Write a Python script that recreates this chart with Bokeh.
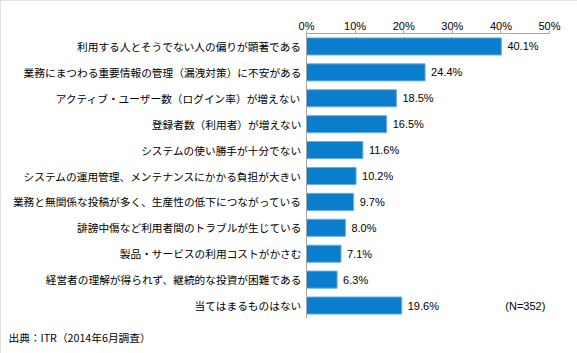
from bokeh.plotting import figure
from bokeh.models import Range1d, FactorRange, FixedTicker, PrintfTickFormatter, Label, ColumnDataSource, Title
from bokeh.embed import file_html
from bokeh.resources import INLINE
from bokeh.core.properties import value

categories = [
    "利用する人とそうでない人の偏りが顕著である",
    "業務にまつわる重要情報の管理（漏洩対策）に不安がある",
    "アクティブ・ユーザー数（ログイン率）が増えない",
    "登録者数（利用者）が増えない",
    "システムの使い勝手が十分でない",
    "システムの運用管理、メンテナンスにかかる負担が大きい",
    "業務と無関係な投稿が多く、生産性の低下につながっている",
    "誹謗中傷など利用者間のトラブルが生じている",
    "製品・サービスの利用コストがかさむ",
    "経営者の理解が得られず、継続的な投資が困難である",
    "当てはまるものはない",
]
values = [40.1, 24.4, 18.5, 16.5, 11.6, 10.2, 9.7, 8.0, 7.1, 6.3, 19.6]
value_labels = ["%.1f%%" % v for v in values]
x_ticks = [0, 10, 20, 30, 40, 50]
note_text = "(N=352)"
source_text = "出典：ITR（2014年6月調査）"

JP = "Noto Sans CJK JP"
LAT = "Liberation Sans"

src = ColumnDataSource(dict(cat=categories, val=values, lab=value_labels))

p = figure(width=577, height=353, output_backend="svg", toolbar_location=None,
           y_range=FactorRange(factors=categories[::-1]), x_range=Range1d(0, 50),
           x_axis_location="above",
           min_border_left=306, min_border_right=28, min_border_top=33, min_border_bottom=35)
p.styles = {"outline": "2px solid #d9d9d9", "outline-offset": "-2px"}
p.outline_line_color = None
p.grid.visible = False
p.background_fill_color = "white"
p.border_fill_color = "white"

p.hbar(y="cat", left=0, right="val", height=0.66, source=src,
       fill_color="#0A7DCC", line_color="#6AB0E6", line_width=1)
p.text(x="val", y="cat", text="lab", source=src, x_offset=6,
       text_baseline="middle", text_align="left",
       text_font=value(LAT), text_font_size="11px", text_color="#000000")

xa = p.xaxis[0]
xa.ticker = FixedTicker(ticks=x_ticks)
xa.formatter = PrintfTickFormatter(format="%d%%")
xa.axis_line_color = "#a6a6a6"
xa.major_tick_line_color = "#a6a6a6"
xa.major_tick_out = 3
xa.major_tick_in = 0
xa.minor_tick_line_color = None
xa.major_label_standoff = -1
xa.major_label_text_font = LAT
xa.major_label_text_font_size = "11px"
xa.major_label_text_color = "#000000"

ya = p.yaxis[0]
ya.axis_line_color = "#a6a6a6"
ya.major_tick_line_color = None
ya.minor_tick_line_color = None
ya.major_tick_out = 0
ya.major_tick_in = 0
ya.major_label_standoff = 5
ya.major_label_text_font = JP
ya.major_label_text_font_size = "10.7px"
ya.major_label_text_color = "#000000"

p.add_layout(Label(x=40.9, y=0.5, text=note_text, text_baseline="middle",
                   text_font=LAT, text_font_size="11px", text_color="#000000"))
p.add_layout(Title(text=source_text, align="left", offset=-298, standoff=18,
                   text_font=JP, text_font_size="10.7px", text_font_style="normal",
                   text_color="#000000"), "below")

open("out.html", "w").write(file_html(p, INLINE))
